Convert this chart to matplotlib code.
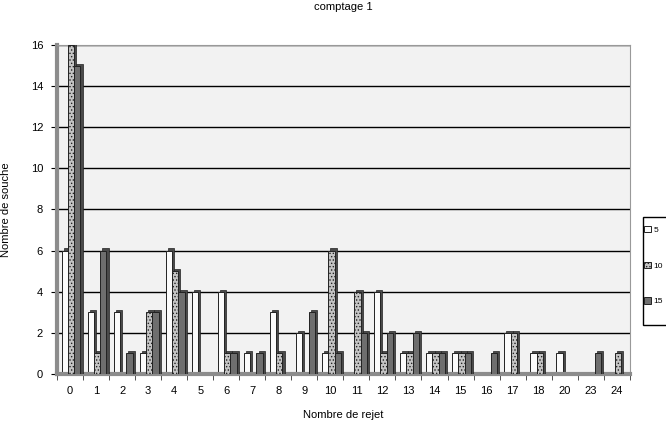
import numpy as np
import matplotlib.pyplot as plt
from matplotlib.patches import Rectangle

plt.rcParams['font.family'] = ['Liberation Sans', 'DejaVu Sans']
plt.rcParams['hatch.color'] = '#7a7a7a'
plt.rcParams['hatch.linewidth'] = 0.6

categories = ['0', '1', '2', '3', '4', '5', '6', '7', '8', '9', '10', '11',
              '12', '13', '14', '15', '16', '17', '18', '20', '23', '24']
s5 = [6, 3, 3, 1, 6, 4, 4, 1, 3, 2, 1, 0, 4, 1, 1, 1, 0, 2, 1, 1, 0, 0]
s10 = [16, 1, 0, 3, 5, 0, 1, 0, 1, 0, 6, 4, 1, 1, 1, 1, 0, 2, 1, 0, 0, 1]
s15 = [15, 6, 1, 3, 4, 0, 1, 1, 0, 3, 1, 2, 2, 2, 1, 1, 1, 0, 0, 0, 1, 0]
series = [('5', s5, '#fbfbfb', None), ('10', s10, '#c4c4c4', '.....'),
          ('15', s15, '#6e6e6e', None)]

fig = plt.figure(figsize=(6.66, 4.21), dpi=100)
ax = fig.add_axes([0.0856, 0.112, 0.86, 0.781])
ax.set_facecolor('#f2f2f2')

x = np.arange(len(categories))
w = 0.24
dx, dy = 0.08, 0.1
for i, (name, vals, col, hatch) in enumerate(series):
    vals = np.array(vals)
    pos = x + (i - 1) * w + 0.04
    shown = vals > 0
    # side/top faces for a flat 3D look
    ax.bar(pos[shown] + dx, vals[shown] + dy, w, bottom=0, color='#4a4a4a',
           edgecolor='#222222', linewidth=0.5, zorder=2 + i)
    ax.bar(pos[shown], vals[shown], w, color=col, edgecolor='#222222',
           linewidth=0.7, hatch=hatch, zorder=2.5 + i)
    ax.bar([np.nan], [0], w, color=col, edgecolor='#222222', linewidth=0.7,
           hatch=hatch, label=name)

ax.set_xlim(-0.5, len(categories) - 0.5)
ax.set_ylim(0, 16)
ax.set_yticks(range(0, 17, 2))
ax.set_xticks(x)
ax.set_xticklabels(categories)
ax.set_xticks(np.arange(-0.5, len(categories), 1), minor=True)
ax.tick_params(axis='x', which='major', length=0, pad=9, labelsize=8)
ax.tick_params(axis='x', which='minor', length=4, color='#333333')
ax.tick_params(axis='y', length=4, labelsize=8, pad=6)
ax.set_axisbelow(True)
ax.grid(axis='y', color='black', linewidth=1)

for s in ['top', 'right']:
    ax.spines[s].set_color('#999999')
ax.spines['left'].set_color('#8c8c8c')
ax.spines['left'].set_linewidth(3)
ax.spines['bottom'].set_color('#8c8c8c')
ax.spines['bottom'].set_linewidth(3)

ax.set_title('comptage 1', fontsize=8, pad=25)
ax.set_xlabel('Nombre de rejet', fontsize=8, labelpad=10)
ax.set_ylabel('Nombre de souche', fontsize=8, labelpad=14)

# legend box, running past the right edge as in the source
fig.patches.append(Rectangle((643 / 666, 1 - 325 / 421), 0.1, 108 / 421,
                             transform=fig.transFigure, facecolor='white',
                             edgecolor='black', linewidth=1))
leg = fig.legend(loc='upper left', bbox_to_anchor=(644 / 666, 1 - 226 / 421),
                 fontsize=6, frameon=False, borderaxespad=0, borderpad=0,
                 handlelength=0.8, handleheight=0.8, labelspacing=3.3,
                 handletextpad=0.3)

fig.savefig('out.png', dpi=100)
